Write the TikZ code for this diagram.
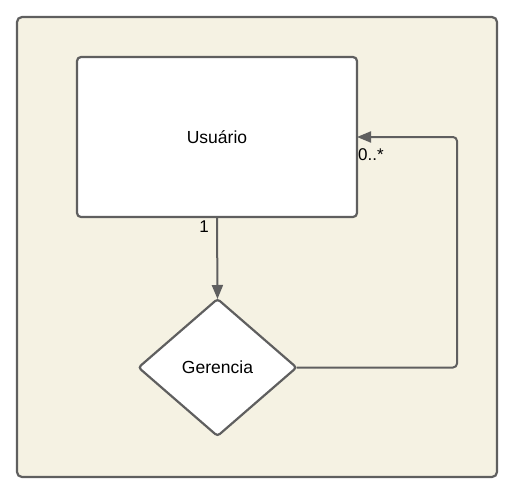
\documentclass[tikz,border=0pt]{standalone}
\usepackage{fontspec}
\setmainfont{Liberation Sans}
\usetikzlibrary{shapes.geometric,arrows.meta}
\definecolor{edgegray}{HTML}{5F5F5F}
\definecolor{paper}{HTML}{F5F2E3}
\tikzset{
  frame/.style={draw=edgegray,line width=2.2pt,fill=paper,rounded corners=5pt},
  classbox/.style={draw=edgegray,line width=2.2pt,fill=white,rounded corners=4pt,
    minimum width=280pt,minimum height=160pt,inner sep=0pt,outer sep=0pt,
    font=\fontsize{17.5}{20}\selectfont},
  relbox/.style={diamond,draw=edgegray,line width=2.2pt,fill=white,rounded corners=3pt,
    minimum width=158pt,minimum height=137pt,inner sep=0pt,outer sep=0pt,
    font=\fontsize{17.5}{20}\selectfont},
  conn/.style={draw=edgegray,line width=2pt,-{Triangle[length=14pt,width=11pt]}},
  conn2/.style={draw=edgegray,line width=2pt,rounded corners=4pt,-{Triangle[length=14pt,width=11pt]}},
  mult/.style={font=\fontsize{17}{19}\selectfont,inner sep=0pt}
}
\begin{document}
\begin{tikzpicture}[x=1pt,y=-1pt]
\useasboundingbox (0,0) rectangle (507,493);
\path[frame] (17,17) rectangle (497,477);
\node[classbox] (usr) at (217,137) {Usuário};
\node[relbox] (ger) at (217.5,367.5) {Gerencia};
\coordinate (c1) at (457,367.5);
\coordinate (c2) at (457,137);
\draw[conn] (usr.south) -- (ger.north);
\draw[conn2] (ger.east) -- (c1) -- (c2) -- (usr.east);
\node[mult] (m1) at (204,227) {1};
\node[mult,anchor=west] (m2) at (358,155) {0..*};
\end{tikzpicture}
\end{document}
